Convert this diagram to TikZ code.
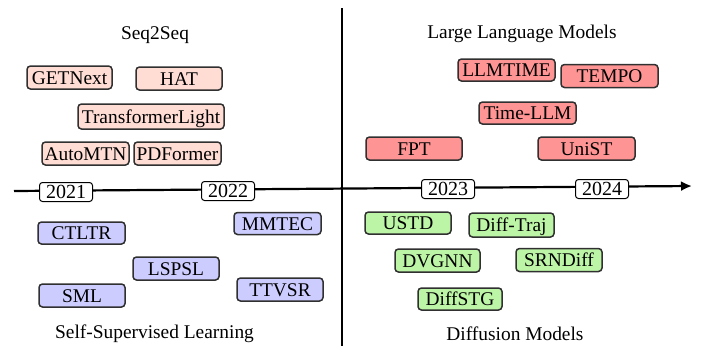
\documentclass[tikz,border=0pt]{standalone}
\usepackage{fontspec}
\setmainfont{Liberation Serif}
\usetikzlibrary{arrows.meta}
\definecolor{seqc}{HTML}{FFDDD5}
\definecolor{llmc}{HTML}{FF9494}
\definecolor{sslc}{HTML}{CCCCFF}
\definecolor{difc}{HTML}{BDF5A6}
\definecolor{edgec}{HTML}{303030}
\begin{document}
\begin{tikzpicture}[x=1pt,y=-1pt,
  lbl/.style={font=\fontsize{19.4}{22}\selectfont, inner sep=0pt},
  mbox/.style={draw=edgec, line width=1.5pt, rounded corners=3.5pt, inner sep=0pt,
    minimum height=23pt, font=\fontsize{19.4}{22}\selectfont, text depth=0pt, text height=13.5pt},
  seqbox/.style={mbox, fill=seqc, minimum width=86pt},
  llmbox/.style={mbox, fill=llmc, minimum width=97pt},
  sslbox/.style={mbox, fill=sslc, minimum width=87pt},
  difbox/.style={mbox, fill=difc, minimum width=86pt},
  yearbox/.style={draw=black, line width=1pt, rounded corners=3pt, fill=white, inner sep=0pt,
    minimum width=53pt, minimum height=19pt, font=\fontsize{20}{22}\selectfont, text height=13.5pt, text depth=0pt}
]
\useasboundingbox (0,0) rectangle (705,346);

% axes
\coordinate (vtop) at (342,8);
\coordinate (vbot) at (342,346);
\coordinate (hleft) at (14,191);
\coordinate (hright) at (692,186);
\draw[line width=2.2pt] (vtop) -- (vbot);
\draw[line width=2.2pt, -{Latex[length=11pt,width=10pt]}] (hleft) -- (hright);

% years
\node[yearbox] (y2021) at (66,192) {2021};
\node[yearbox] (y2022) at (228,191) {2022};
\node[yearbox] (y2023) at (448,189) {2023};
\node[yearbox] (y2024) at (602,189) {2024};

% category labels
\node[lbl] (tseq) at (155,35) {Seq2Seq};
\node[lbl] (tllm) at (522,34) {Large Language Models};
\node[lbl] (tssl) at (154.5,334) {Self-Supervised Learning};
\node[lbl] (tdif) at (515,334) {Diffusion Models};

% Seq2Seq
\node[seqbox, minimum width=85pt] (getnext) at (69.5,77.5) {GETNext};
\node[seqbox] (hat) at (179,78.5) {HAT};
\node[seqbox, minimum width=146pt, minimum height=25pt] (tlight) at (151,116.5) {TransformerLight};
\node[seqbox, minimum width=87pt] (automtn) at (85.5,153.5) {AutoMTN};
\node[seqbox, minimum width=87pt] (pdformer) at (177.5,153.5) {PDFormer};

% LLM
\node[llmbox, minimum height=22pt] (llmtime) at (506.5,70) {LLMTIME};
\node[llmbox] (tempo) at (609.5,76) {TEMPO};
\node[llmbox, minimum height=22pt] (timellm) at (527.5,113) {Time-LLM};
\node[llmbox, minimum width=96pt] (fpt) at (414,148.5) {FPT};
\node[llmbox] (unist) at (586.5,148.5) {UniST};

% SSL
\node[sslbox, minimum height=22pt] (ctltr) at (81.5,233) {CTLTR};
\node[sslbox, minimum height=22pt] (mmtec) at (277.5,223.5) {MMTEC};
\node[sslbox, minimum width=86pt] (lspsl) at (176,268.5) {LSPSL};
\node[sslbox, minimum width=86pt] (sml) at (82,295.5) {SML};
\node[sslbox, minimum width=86pt] (ttvsr) at (280,289.5) {TTVSR};

% Diffusion
\node[difbox, minimum height=22pt] (ustd) at (408,223) {USTD};
\node[difbox, minimum width=85pt, minimum height=24pt] (difftraj) at (511.5,225) {Diff-Traj};
\node[difbox, minimum width=85pt] (dvgnn) at (437.5,260.5) {DVGNN};
\node[difbox] (srndiff) at (559,260) {SRNDiff};
\node[difbox, minimum width=84pt, minimum height=22pt] (diffstg) at (460,299) {DiffSTG};
\end{tikzpicture}
\end{document}
